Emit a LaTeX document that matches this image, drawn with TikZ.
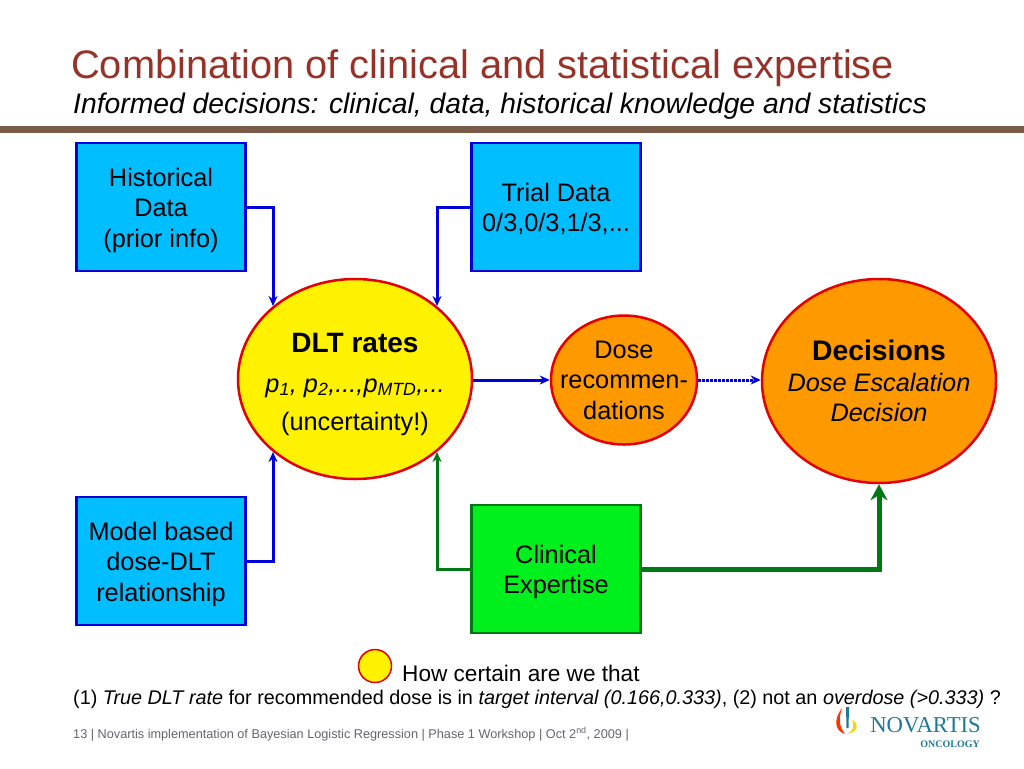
\documentclass[tikz,border=0pt]{standalone}
\usepackage{fontspec}
\setmainfont{Liberation Sans}
\newfontfamily\logofont{Liberation Serif}
\definecolor{TitleRed}{RGB}{150, 50, 40}
\definecolor{RuleBrown}{RGB}{120, 92, 72}
\definecolor{BoxBlue}{RGB}{0, 190, 255}
\definecolor{LineBlue}{RGB}{0, 0, 220}
\definecolor{BoxGreen}{RGB}{0, 240, 30}
\definecolor{LineGreen}{RGB}{0, 120, 20}
\definecolor{Orange}{RGB}{255, 153, 0}
\definecolor{NovTeal}{RGB}{30, 120, 150}
\definecolor{FootGray}{RGB}{100, 100, 110}
\usetikzlibrary{arrows.meta, positioning, shapes, calc}

\begin{document}
\begin{tikzpicture}[x=1pt, y=-1pt, inner sep=0pt,
            box/.style={rectangle, draw=LineBlue, fill=BoxBlue, line width=2.5pt,
                        minimum width=169pt, minimum height=128pt},
            greenbox/.style={box, fill=BoxGreen, draw=LineGreen},
            blob/.style={ellipse, draw=red!90!black, line width=2.5pt},
            bodytext/.style={align=center, font=\fontsize{25.3}{30.5}\selectfont},
            arrow/.style={-{Stealth[length=10pt, width=9pt]}, LineBlue, line width=3pt},
            greenarrow/.style={arrow, LineGreen}
        ]
            \useasboundingbox (0,0) rectangle (1024,768);
            \node[anchor=west, text=TitleRed, font=\fontsize{39.8}{44}\selectfont] (title) at (71,68) {Combination of clinical and statistical expertise};
            \node[anchor=west, font=\fontsize{28.3}{32}\selectfont\itshape] (subtitle) at (73,106) {Informed decisions: clinical, data, historical knowledge and statistics};
            \fill[RuleBrown] (0,126) rectangle (1024,133);

            \node[box] (historical) at (161,207) {};
            \node[bodytext] (historicaltext) at (161,210) {Historical\\Data\\(prior info)};
            \node[box] (trial) at (556,207) {};
            \node[bodytext] (trialtext) at (556,209) {Trial Data\\0/3,0/3,1/3,...};
            \node[box] (model) at (161,561) {};
            \node[bodytext] (modeltext) at (161,564) {Model based\\dose-DLT\\relationship};
            \node[greenbox] (clinical) at (556,569) {};
            \node[bodytext] (clinicaltext) at (556,572) {Clinical\\Expertise};

            \node[blob, fill=yellow, minimum width=234pt, minimum height=200pt] (rates) at (355,379) {};
            \node[font=\fontsize{28}{32}\selectfont\bfseries] (ratestitle) at (355,343) {DLT rates};
            \node[font=\fontsize{25.3}{30}\selectfont] (ratesp) at (355,388) {\itshape p\textsubscript{1}, p\textsubscript{2},...,p\textsubscript{MTD},...};
            \node[font=\fontsize{25.3}{30}\selectfont] (ratesu) at (355,424) {(uncertainty!)};

            \node[blob, fill=Orange, minimum width=146pt, minimum height=129pt] (dose) at (624,380) {};
            \node[bodytext] (dosetext) at (dose) {Dose\\recommen-\\dations};
            \node[blob, fill=Orange, minimum width=234pt, minimum height=204pt] (decisions) at (879,381) {};
            \node[bodytext] (decisionstext) at (decisions) {{\fontsize{28.3}{30.5}\selectfont\bfseries Decisions}\\\itshape Dose Escalation\\\itshape Decision};

            \coordinate (rates nw) at (273,306);
            \coordinate (rates ne) at (437,306);
            \coordinate (rates sw) at (273,452);
            \coordinate (rates se) at (437,452);
            \draw[arrow] (historical.east |- 0,207) -| (rates nw);
            \draw[arrow] (trial.west |- 0,207) -| (rates ne);
            \draw[arrow] (model.east |- 0,561) -| (rates sw);
            \draw[greenarrow] (clinical.west |- 0,569) -| (rates se);
            \draw[arrow] (rates.east |- 0,380) -- (dose.west |- 0,380);
            \draw[arrow, densely dotted] (dose.east |- 0,380) -- (decisions.west |- 0,380);
            \draw[greenarrow, line width=5pt, -{Stealth[length=16pt, width=17pt]}] (clinical.east |- 0,569) -| (decisions.south);

            \node[circle, draw=red!90!black, fill=yellow, line width=1.5pt, minimum size=33pt] (certain) at (375,666) {};
            \node[anchor=west, font=\fontsize{22.6}{26}\selectfont] (question) at (402,673) {How certain are we that};
            \node[anchor=west, font=\fontsize{19.8}{24}\selectfont] (interval) at (73,699) {(1) \textit{True DLT rate} for recommended dose is in \textit{target interval (0.166,0.333)}, (2) not an \textit{overdose (>0.333)} ?};
            \node[anchor=west, text=FootGray, font=\fontsize{12.7}{15}\selectfont] (footer) at (73,734) {13 | Novartis implementation of Bayesian Logistic Regression | Phase 1 Workshop | Oct 2\textsuperscript{nd}, 2009 |};
            \node[anchor=east, text=NovTeal, font=\logofont\fontsize{22.7}{24}\selectfont] (novartis) at (981,725) {NOVARTIS};
            \node[anchor=east, text=NovTeal, font=\logofont\bfseries\fontsize{10}{12}\selectfont] (oncology) at (980,744) {ONCOLOGY};
            \fill[red!60!orange] (842,708) .. controls (833,720) and (835,731) .. (845,734) .. controls (840,728) and (838,720) .. (842,708) -- cycle;
            \fill[NovTeal] (846,707) -- (849,707) -- (848.5,728) -- (846.5,728) -- cycle;
            \fill[yellow!70!orange] (852,720) .. controls (860,724) and (858,732) .. (847,734) .. controls (853,731) and (855,726) .. (852,720) -- cycle;
        \end{tikzpicture}
\end{document}
